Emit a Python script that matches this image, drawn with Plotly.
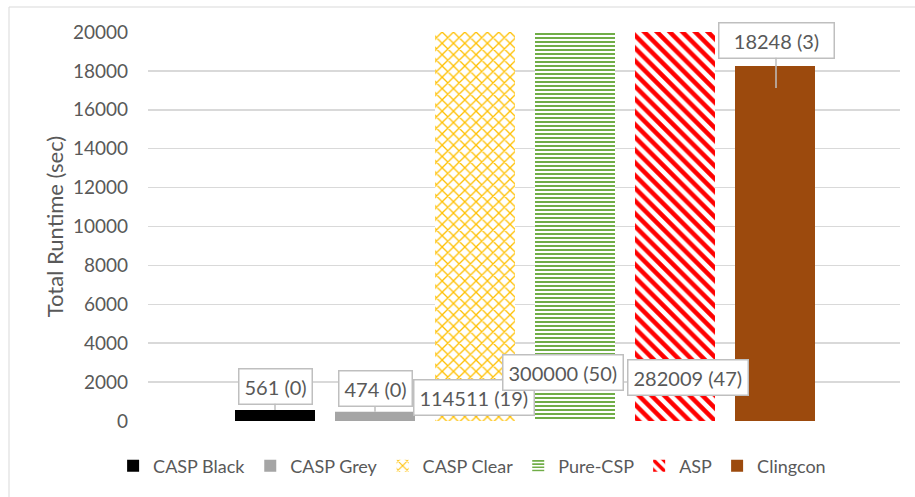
import plotly.graph_objects as go

series = ["CASP Black", "CASP Grey", "CASP Clear", "Pure-CSP", "ASP", "Clingcon"]
runtimes = [561, 474, 114511, 300000, 282009, 18248]
timeouts = [0, 0, 19, 50, 47, 3]
y_ticks = [0, 2000, 4000, 6000, 8000, 10000, 12000, 14000, 16000, 18000, 20000]
y_max = 20000

styles = {
    "CASP Black": dict(color="#000000", pattern=dict(shape="")),
    "CASP Grey": dict(color="#A5A5A5", pattern=dict(shape="")),
    "CASP Clear": dict(color="#FFFFFF", pattern=dict(shape="x", fgcolor="#FFC000", bgcolor="#FFFFFF",
                                                     size=8, solidity=0.3, fgopacity=1)),
    "Pure-CSP": dict(color="#FFFFFF", pattern=dict(shape="-", fgcolor="#70AD47", bgcolor="#FFFFFF",
                                                   size=4, solidity=0.5, fgopacity=1)),
    "ASP": dict(color="#FFFFFF", pattern=dict(shape="\\", fgcolor="#FF0000", bgcolor="#FFFFFF",
                                              size=9, solidity=0.5, fgopacity=1)),
    "Clingcon": dict(color="#9C4A0D", pattern=dict(shape="")),
}

FONT = "Lato"
TXT = "#595959"

fig = go.Figure()
for name, val in zip(series, runtimes):
    st = styles[name]
    fig.add_trace(go.Bar(
        x=[name], y=[min(val, y_max)], name=name, width=0.8,
        marker=dict(color=st["color"], pattern=st["pattern"], line=dict(width=0)),
        hoverinfo="skip",
    ))

# label placement (pixel offsets only)
label_cfg = {
    "CASP Black": dict(arrow=True, ay=-24, yshift=0, xshift=0, width=None),
    "CASP Grey": dict(arrow=True, ay=-23, yshift=0, xshift=0, width=None),
    "CASP Clear": dict(arrow=False, yshift=24, xshift=-1, width=None),
    "Pure-CSP": dict(arrow=False, yshift=49, xshift=-12, width=None),
    "ASP": dict(arrow=False, yshift=44, xshift=13, width=None),
    "Clingcon": dict(arrow=True, ay=-48, yshift=-22, xshift=1, width=104),
}

annotations = []
for name, val, to in zip(series, runtimes, timeouts):
    c = label_cfg[name]
    txt = f"{val} ({to})"
    base = dict(x=name, xref="x", yref="y", text=txt,
                font=dict(family=FONT, size=20, color=TXT),
                bgcolor="#FFFFFF", bordercolor="#BFBFBF", borderwidth=1.5, borderpad=5,
                xshift=c["xshift"], yshift=c["yshift"])
    if c["width"]:
        base["width"] = c["width"]
    if c["arrow"]:
        base.update(y=min(val, y_max), showarrow=True, arrowhead=0, arrowwidth=1.5,
                    arrowcolor="#BFBFBF", ax=0, ay=c["ay"])
    else:
        base.update(y=0, showarrow=False, yanchor="middle")
    annotations.append(base)

fig.update_layout(
    width=915, height=497,
    margin=dict(l=148, r=15, t=32, b=76, autoexpand=False),
    paper_bgcolor="#FFFFFF", plot_bgcolor="#FFFFFF",
    barmode="overlay",
    showlegend=True,
    legend=dict(orientation="h", x=0.431, xanchor="center",
                y=-0.1157, yanchor="middle",
                font=dict(family=FONT, size=18, color=TXT), itemwidth=30,
                traceorder="normal"),
    xaxis=dict(type="category", range=[-1.27, 6.25], showticklabels=False,
               showgrid=False, zeroline=False, showline=False, ticks="", automargin=False),
    yaxis=dict(range=[0, y_max], tickvals=y_ticks, tickformat="d",
               showgrid=True, gridcolor="#D9D9D9",
               gridwidth=1.5, zeroline=False, showline=False, ticks="",
               ticklabelstandoff=19, automargin=False,
               tickfont=dict(family=FONT, size=19, color=TXT),
               title=dict(text="Total Runtime (sec)", standoff=3,
                          font=dict(family=FONT, size=22, color=TXT))),
    annotations=annotations,
    shapes=[dict(type="rect", xref="paper", yref="paper",
                 x0=(9 - 148) / 752, x1=(930 - 148) / 752,
                 y0=(421 - 510) / 389, y1=(421 - 7) / 389,
                 line=dict(color="#D9D9D9", width=1), fillcolor="rgba(0,0,0,0)", layer="below")],
)

fig.write_html("out.html",
               config={"displayModeBar": False, "staticPlot": True},
               post_script="document.body.style.margin='0';document.body.style.overflow='hidden';")
